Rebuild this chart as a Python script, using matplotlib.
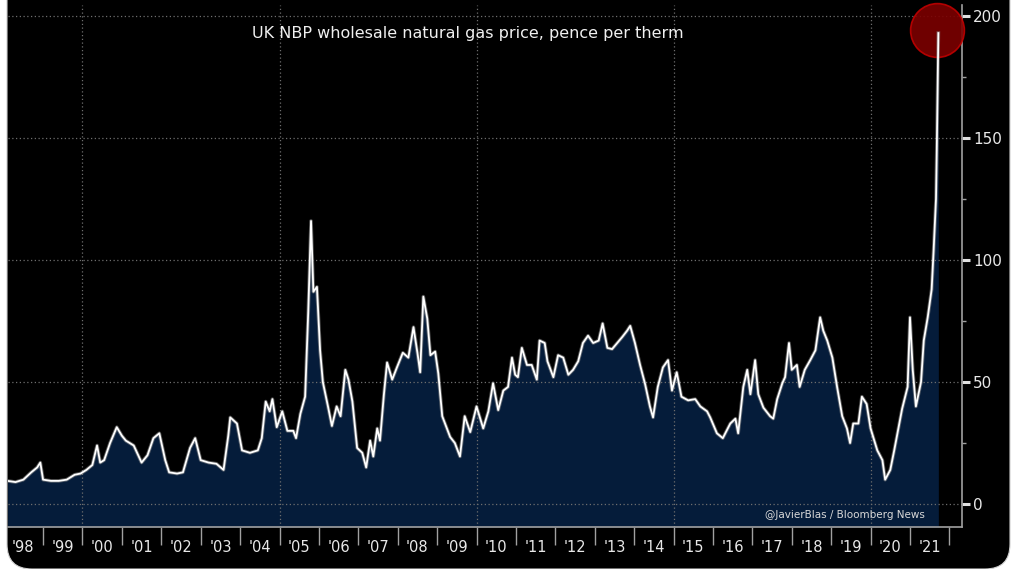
import numpy as np
import matplotlib
matplotlib.use("Agg")
import matplotlib.pyplot as plt
from matplotlib.patches import FancyBboxPatch
from matplotlib.ticker import FixedLocator, NullFormatter

# UK NBP gas price, pence per therm (decimal years)
dates = [
    1998.10, 1998.30, 1998.50, 1998.70, 1998.85, 1998.93, 1999.00, 1999.20, 1999.40, 1999.60,
    1999.80, 1999.95, 2000.10, 2000.25, 2000.37, 2000.45, 2000.55, 2000.70, 2000.87, 2001.00,
    2001.10, 2001.30, 2001.50, 2001.65, 2001.80, 2001.95, 2002.10, 2002.20, 2002.40, 2002.55,
    2002.73, 2002.86, 2003.00, 2003.20, 2003.40, 2003.58, 2003.70, 2003.75, 2003.92, 2004.05,
    2004.25, 2004.45, 2004.55, 2004.65, 2004.75, 2004.82, 2004.93, 2005.07, 2005.20, 2005.35,
    2005.42, 2005.53, 2005.65, 2005.73, 2005.80, 2005.86, 2005.95, 2006.03, 2006.10, 2006.23,
    2006.33, 2006.45, 2006.55, 2006.67, 2006.75, 2006.85, 2006.97, 2007.10, 2007.20, 2007.30,
    2007.38, 2007.48, 2007.55, 2007.65, 2007.73, 2007.86, 2007.98, 2008.13, 2008.27, 2008.40,
    2008.50, 2008.57, 2008.65, 2008.75, 2008.83, 2008.95, 2009.03, 2009.13, 2009.33, 2009.45,
    2009.58, 2009.70, 2009.84, 2010.00, 2010.17, 2010.30, 2010.42, 2010.55, 2010.68, 2010.80,
    2010.90, 2010.98, 2011.05, 2011.15, 2011.28, 2011.40, 2011.53, 2011.60, 2011.73, 2011.80,
    2011.95, 2012.07, 2012.20, 2012.33, 2012.45, 2012.58, 2012.70, 2012.83, 2012.96, 2013.10,
    2013.20, 2013.32, 2013.44, 2013.57, 2013.70, 2013.82, 2013.90, 2014.02, 2014.15, 2014.28,
    2014.40, 2014.48, 2014.60, 2014.73, 2014.86, 2014.96, 2015.08, 2015.20, 2015.37, 2015.55,
    2015.68, 2015.85, 2015.93, 2016.10, 2016.25, 2016.44, 2016.57, 2016.64, 2016.77, 2016.87,
    2016.95, 2017.07, 2017.15, 2017.28, 2017.45, 2017.53, 2017.63, 2017.76, 2017.83, 2017.93,
    2018.00, 2018.13, 2018.20, 2018.33, 2018.47, 2018.60, 2018.72, 2018.80, 2018.90, 2019.03,
    2019.15, 2019.28, 2019.40, 2019.48, 2019.56, 2019.69, 2019.78, 2019.90, 2020.00, 2020.17,
    2020.30, 2020.37, 2020.50, 2020.60, 2020.73, 2020.80, 2020.94, 2021.00, 2021.07, 2021.15,
    2021.28, 2021.35, 2021.45, 2021.55, 2021.60, 2021.66, 2021.68, 2021.72,
]
prices = [
    9.5, 9, 10, 13, 15, 17, 10, 9.5, 9.5, 10,
    12, 12.5, 14, 16, 24, 17, 18, 25, 31.5, 28,
    26, 24, 17, 20, 27, 29, 18, 13, 12.5, 13,
    23, 27, 18, 17, 16.5, 14, 28, 35.5, 33, 22,
    21, 22, 27, 42, 38, 43, 31.5, 38, 30, 30,
    27, 37, 44, 79, 116, 87, 89, 63, 50, 40,
    32, 40, 36, 55, 51, 42, 23, 21, 15, 26,
    19.5, 31, 26, 45, 58, 51, 56, 62, 60, 72.5,
    62, 54, 85, 76, 61, 62.5, 53.5, 36, 27.5, 25,
    19.5, 36, 29.5, 40, 31, 38, 49.5, 38.5, 46.5, 48,
    60, 53, 52, 64, 57, 57, 51, 67, 66, 58.5,
    52, 61, 60, 53, 55, 58.5, 66, 69, 66, 67,
    74, 64, 63.5, 66, 68.5, 71, 73, 66, 57, 49,
    40, 35.5, 48, 56, 59, 46.5, 54, 44, 42.5, 43,
    40, 38, 35.5, 29, 27, 33, 35, 29, 48, 55,
    45, 59, 45, 39.5, 36, 35, 43, 49.5, 52, 66,
    55, 57, 48, 55, 59, 63, 76.5, 71, 67, 60,
    48, 36, 31, 25, 33, 33, 44, 41, 31, 22,
    18, 10, 14, 22, 33, 39, 48, 76.5, 55, 40,
    50, 67, 76.5, 88, 104, 125, 145, 193,
]

years = list(range(1998, 2022))
year_labels = ["'%02d" % (y % 100) for y in years]
yticks = [0, 50, 100, 150, 200]

fig = plt.figure(figsize=(10.16, 5.69), dpi=100, facecolor="white")
frame = FancyBboxPatch((0.07, 0.0), 10.03, 6.5,
                       boxstyle="round,pad=0,rounding_size=0.25",
                       transform=fig.dpi_scale_trans, facecolor="black",
                       edgecolor="#cfcfcf", linewidth=0.8, zorder=-5)
fig.patches.append(frame)

ax = fig.add_axes([8 / 1016, 1 - 527 / 569, 954 / 1016, 522 / 569])
ax.set_zorder(5)
ax.set_facecolor("black")

ymin = -9.4
ax.fill_between(dates, prices, ymin, color="#051c3a", zorder=2, linewidth=0)
ax.plot(dates, prices, color="#8a8a8a", lw=2.6, alpha=0.6, zorder=3.5)
ax.plot(dates, prices, color="white", lw=1.3, zorder=4)

# red circle highlighting the latest spike
ax.scatter([2021.69], [194.3], s=1500, color="#7c0000", edgecolor="#c00000",
           linewidth=1.2, alpha=0.9, zorder=3, clip_on=False)

ax.set_xlim(1998.11, 2022.32)
ax.set_ylim(ymin, 204.5)

# dotted grid, visible over the black background and the fill
for v in yticks:
    ax.axhline(v, color="#6e6e6e", lw=0.9, ls=(0, (1, 2)), zorder=2.5)
for yr in [2000, 2005, 2010, 2015, 2020]:
    ax.axvline(yr, color="#6e6e6e", lw=0.9, ls=(0, (1, 2)), zorder=2.5)

for s in ["left", "top"]:
    ax.spines[s].set_visible(False)
for s in ["right", "bottom"]:
    ax.spines[s].set_color("#a0a0a0")
    ax.spines[s].set_linewidth(1.2)

# x axis: separators at year boundaries, labels mid-year
ax.xaxis.set_major_locator(FixedLocator(list(range(1999, 2023))))
ax.xaxis.set_major_formatter(NullFormatter())
ax.xaxis.set_minor_locator(FixedLocator([y + 0.5 for y in years]))
ax.set_xticklabels(year_labels, minor=True)
ax.tick_params(axis="x", which="major", direction="out", length=13, width=1,
               color="#a0a0a0")
ax.tick_params(axis="x", which="minor", length=0, pad=9, labelsize=10.5,
               labelcolor="#e8e8e8")

# y axis on the right
ax.yaxis.tick_right()
ax.set_yticks(yticks)
ax.set_yticks([25, 75, 125, 175], minor=True)
ax.tick_params(axis="y", which="major", direction="out", length=6, width=2.2,
               color="#e0e0e0", labelsize=11, labelcolor="#e8e8e8", pad=2)
ax.tick_params(axis="y", which="minor", direction="out", length=3, width=1,
               color="#a0a0a0")

ax.text(0.482, 0.946, "UK NBP wholesale natural gas price, pence per therm",
        transform=ax.transAxes, ha="center", va="center", color="#f0f0f0",
        fontsize=11.5, zorder=5)
ax.text(0.961, 0.023, "@JavierBlas / Bloomberg News", transform=ax.transAxes,
        ha="right", va="center", color="#d8d8d8", fontsize=7.5, zorder=5)

fig.savefig("out.png", dpi=100, facecolor=fig.get_facecolor())
